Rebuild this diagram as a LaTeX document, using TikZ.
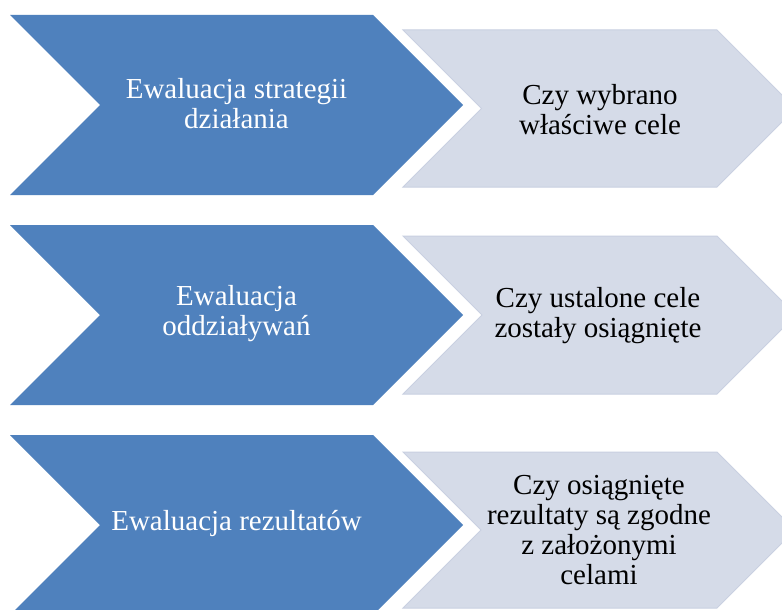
\documentclass[tikz,border=0pt]{standalone}
\usepackage{fontspec}
\setmainfont{Liberation Serif}
\definecolor{bluefill}{RGB}{79,129,189}
\definecolor{lightfill}{RGB}{213,219,232}
\definecolor{lightedge}{RGB}{201,208,225}
\tikzset{
  bluechev/.style={fill=bluefill, draw=none},
  lightchev/.style={fill=lightfill, draw=lightedge, line width=1pt, line join=miter},
  bluetext/.style={text=white, align=center, font=\fontsize{29}{30}\selectfont, inner sep=0pt},
  lighttext/.style={text=black, align=center, font=\fontsize{29}{30}\selectfont, inner sep=0pt}
}
\begin{document}
\begin{tikzpicture}[x=1pt,y=-1pt]
\useasboundingbox (0,0) rectangle (782,610);
\clip (0,0) rectangle (782,610);
\fill[white] (0,0) rectangle (782,610);
% row 1
\path[bluechev] (10,15) -- (373,15) -- (463,105) -- (373,195) -- (10,195) -- (100,105) -- cycle;
\path[lightchev] (403,30) -- (717,30) -- (795.5,108.5) -- (717,187) -- (403,187) -- (481.5,108.5) -- cycle;
\node[bluetext] (b1) at (236.5,104) {Ewaluacja strategii\\działania};
\node[lighttext] (l1) at (600,110) {Czy wybrano\\właściwe cele};
% row 2
\path[bluechev] (10,225) -- (373,225) -- (463,315) -- (373,405) -- (10,405) -- (100,315) -- cycle;
\path[lightchev] (403,236) -- (717,236) -- (796,315) -- (717,394) -- (403,394) -- (482,315) -- cycle;
\node[bluetext] (b2) at (236.5,314) {Ewaluacja\\oddziaływań};
\node[lighttext] (l2) at (598,316) {Czy ustalone cele\\zostały osiągnięte};
% row 3
\path[bluechev] (10,435) -- (373,435) -- (463,525) -- (373,615) -- (10,615) -- (100,525) -- cycle;
\path[lightchev] (403,452) -- (717,452) -- (795,530) -- (717,608) -- (403,608) -- (481,530) -- cycle;
\node[bluetext] (b3) at (236.5,524) {Ewaluacja rezultatów};
\node[lighttext] (l3) at (599,530) {Czy osiągnięte\\rezultaty są zgodne\\z założonymi\\celami};
\end{tikzpicture}
\end{document}
